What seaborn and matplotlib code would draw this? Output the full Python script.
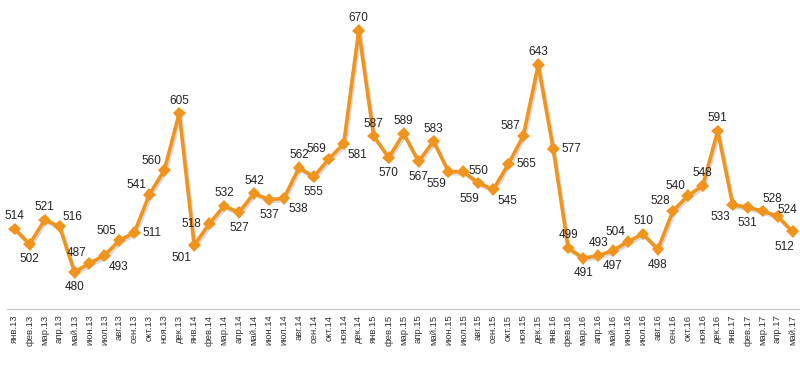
import numpy as np
import pandas as pd
import matplotlib
matplotlib.use("Agg")
import matplotlib.pyplot as plt
import matplotlib.patheffects as pe
import seaborn as sns

MONTHS = ["янв", "фев", "мар", "апр", "май", "июн", "июл", "авг", "сен", "окт", "ноя", "дек"]
LABELS = [f"{m}.{y}" for y in (13, 14, 15, 16) for m in MONTHS] + [f"{m}.17" for m in MONTHS[:5]]

VALUES = [
    514, 502, 521, 516, 480, 487, 493, 505, 511, 541, 560, 605,
    501, 518, 532, 527, 542, 537, 538, 562, 555, 569, 581, 670,
    587, 570, 589, 567, 583, 559, 559, 550, 545, 565, 587, 643,
    577, 499, 491, 493, 497, 504, 510, 498, 528, 540, 548, 591,
    533, 531, 528, 524, 512,
]

# where each value label sits relative to its point
PLACE = [
    "a", "b", "a", "ar", "b", "al", "br", "al", "r", "al", "al", "a",
    "bl", "l", "a", "b", "a", "b", "br", "a", "b", "al", "br", "a",
    "a", "b", "a", "b", "a", "bl", "b2", "a", "br", "r", "al", "a",
    "r", "a", "b", "a", "b", "al", "a", "b", "al", "al", "a", "a",
    "bl", "b", "ar2", "ar3", "bl2",
]
OFFSETS = {
    "a": (0, 9), "b": (0, -11), "b2": (4, -20), "l": (-13, 0), "r": (13, 0),
    "al": (-9, 7), "ar": (9, 7), "bl": (-9, -9), "br": (10, -8), "bl2": (-6, -11),
    "ar2": (7, 9), "ar3": (7, 4.5),
}

df = pd.DataFrame({"x": np.arange(len(VALUES)), "value": VALUES})
color = "#F0941D"

sns.set_style("white")
plt.rcParams["font.family"] = ["Liberation Sans", "DejaVu Sans"]

fig = plt.figure(figsize=(8, 3.7), dpi=100)
ax = fig.add_axes([0.009, 1 - 309 / 370, 0.991, 309 / 370])

sns.lineplot(data=df, x="x", y="value", ax=ax, color=color, linewidth=2.6,
             marker="D", markersize=6.5, markeredgewidth=0,
             path_effects=[pe.SimpleLineShadow(offset=(1, -1.5), alpha=0.15), pe.Normal()])

for x, v, p in zip(df["x"], df["value"], PLACE):
    dx, dy = OFFSETS[p]
    ax.annotate(str(v), (x, v), xytext=(dx, dy), textcoords="offset points",
                ha="center", va="center", fontsize=8.5, color="#222222")

ax.set_xlim(-0.5, len(VALUES) - 0.5)
ax.set_ylim(451, 694)
ax.set_yticks([])
ax.set_xticks(df["x"])
ax.set_xticklabels(LABELS, rotation=90, fontsize=6.8, color="#333333")
ax.set_xticks(np.arange(-0.5, len(VALUES), 1), minor=True)
ax.tick_params(axis="x", which="major", length=0, pad=4)
ax.tick_params(axis="x", which="minor", length=4, color="#c8c8c8", width=0.8)
ax.set_xlabel("")
ax.set_ylabel("")

for s in ["top", "left", "right"]:
    ax.spines[s].set_visible(False)
ax.spines["bottom"].set_color("#c8c8c8")
ax.spines["bottom"].set_linewidth(0.8)

fig.savefig("out.png", dpi=100)
